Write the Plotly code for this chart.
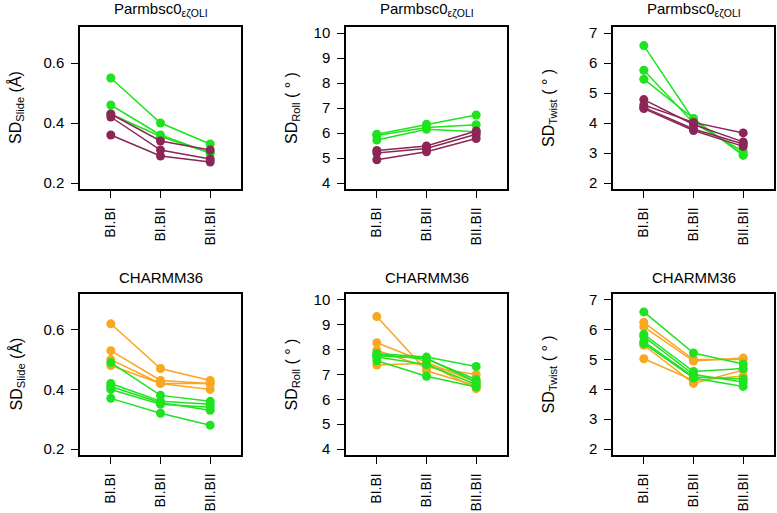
import plotly.graph_objects as go

W, H = 777, 513

categories = ["BI.BI", "BI.BII", "BII.BII"]
x_pos = [1, 2, 3]

# Parmbsc0 eps-zeta OLI  (green = reference, maroon = force field)
bsc_slide_green = [[0.55, 0.40, 0.33], [0.46, 0.36, 0.30], [0.43, 0.355, 0.30]]
bsc_slide_maroon = [[0.43, 0.34, 0.31], [0.42, 0.31, 0.28], [0.36, 0.29, 0.27]]
bsc_roll_green = [[5.95, 6.35, 6.72], [5.90, 6.22, 6.33], [5.72, 6.15, 6.05]]
bsc_roll_maroon = [[5.30, 5.48, 6.08], [5.20, 5.38, 5.95], [4.93, 5.25, 5.78]]
bsc_twist_green = [[6.58, 4.10, 2.95], [5.76, 4.00, 3.05], [5.46, 4.15, 2.92]]
bsc_twist_maroon = [[4.78, 3.95, 3.37], [4.60, 4.02, 3.67], [4.52, 3.80, 3.30], [4.48, 3.75, 3.22]]

# CHARMM36  (orange = force field, green = reference)
ch_slide_orange = [[0.62, 0.47, 0.43], [0.53, 0.43, 0.42], [0.50, 0.42, 0.42], [0.48, 0.42, 0.40]]
ch_slide_green = [[0.49, 0.38, 0.36], [0.42, 0.36, 0.35], [0.41, 0.355, 0.33], [0.40, 0.35, 0.34], [0.37, 0.32, 0.28]]
ch_roll_orange = [[9.33, 7.15, 6.55], [8.28, 7.50, 6.70], [7.97, 7.30, 7.00], [7.38, 7.45, 6.43]]
ch_roll_green = [[7.85, 7.70, 7.32], [7.80, 7.62, 6.80], [7.70, 7.40, 6.60], [7.55, 6.93, 6.50], [7.75, 7.65, 6.70]]
ch_twist_orange = [[6.25, 5.00, 5.00], [6.10, 4.95, 5.05], [5.48, 4.20, 4.65], [5.03, 4.30, 4.45]]
ch_twist_green = [[6.60, 5.22, 4.85], [5.85, 4.60, 4.70], [5.77, 4.50, 4.25], [5.60, 4.42, 4.35], [5.54, 4.38, 4.10]]

titles = ["Parmbsc0<sub>εζOLI</sub>", "CHARMM36"]
y_titles = ["SD<sub>Slide</sub> (Å)", "SD<sub>Roll</sub> ( ° )", "SD<sub>Twist</sub> ( ° )"]
y_ranges = [[0.18, 0.72], [3.76, 10.24], [1.8, 7.2]]
y_ticks = [[0.2, 0.4, 0.6], [4, 5, 6, 7, 8, 9, 10], [2, 3, 4, 5, 6, 7]]
y_ticktext = [["0.2", "0.4", "0.6"], None, None]

GREEN = "#1ee31e"
MAROON = "#8b2656"
ORANGE = "#f9a620"

panels = [
    [[(bsc_slide_green, GREEN), (bsc_slide_maroon, MAROON)],
     [(bsc_roll_green, GREEN), (bsc_roll_maroon, MAROON)],
     [(bsc_twist_green, GREEN), (bsc_twist_maroon, MAROON)]],
    [[(ch_slide_orange, ORANGE), (ch_slide_green, GREEN)],
     [(ch_roll_orange, ORANGE), (ch_roll_green, GREEN)],
     [(ch_twist_orange, ORANGE), (ch_twist_green, GREEN)]],
]

col_px = [(80, 241), (346, 507), (613, 774)]
row_px = [(27, 189), (294, 455)]
ytitle_x = [16, 292, 549]
title_y = [9, 277]

FONT = "Liberation Sans, Arial, sans-serif"

fig = go.Figure()
annotations = []
n = 0
for r in range(2):
    for c in range(3):
        n += 1
        sfx = "" if n == 1 else str(n)
        xa, ya = "x" + sfx, "y" + sfx
        for groups, colour in panels[r][c]:
            for vals in groups:
                fig.add_trace(go.Scatter(
                    x=x_pos, y=vals, mode="lines+markers",
                    line=dict(color=colour, width=1.5),
                    marker=dict(color=colour, size=9),
                    xaxis=xa, yaxis=ya, showlegend=False, hoverinfo="skip"))
        x0, x1 = col_px[c]
        y0, y1 = row_px[r]
        axis_common = dict(showline=True, mirror=True, linecolor="black", linewidth=1.5,
                           ticks="outside", ticklen=7, tickwidth=1, tickcolor="black",
                           showgrid=False, zeroline=False, automargin=False,
                           ticklabelstandoff=4)
        fig.layout["xaxis" + sfx] = dict(
            domain=[x0 / W, x1 / W], range=[0.38, 3.62], anchor=ya,
            tickvals=x_pos, ticktext=categories, tickangle=-90,
            tickfont=dict(family=FONT, size=14, color="black"), **axis_common)
        yk = dict(domain=[1 - y1 / H, 1 - y0 / H], range=y_ranges[c], anchor=xa,
                  tickvals=y_ticks[c],
                  tickfont=dict(family=FONT, size=15, color="black"), **axis_common)
        if y_ticktext[c]:
            yk["ticktext"] = y_ticktext[c]
        fig.layout["yaxis" + sfx] = yk
        annotations.append(dict(
            text=titles[r], x=(x0 + x1) / 2 / W, y=1 - title_y[r] / H,
            xref="paper", yref="paper", showarrow=False,
            xanchor="center", yanchor="middle",
            font=dict(family=FONT, size=15, color="black")))
        annotations.append(dict(
            text=y_titles[c], x=ytitle_x[c] / W, y=1 - (y0 + y1) / 2 / H,
            xref="paper", yref="paper", showarrow=False, textangle=-90,
            xanchor="center", yanchor="middle",
            font=dict(family=FONT, size=16, color="black")))

fig.update_layout(
    width=W, height=H, margin=dict(l=0, r=0, t=0, b=0),
    paper_bgcolor="white", plot_bgcolor="white",
    annotations=annotations)

fig.write_html("out.html", config={"displayModeBar": False},
               post_script="document.body.style.margin = '0px';")
